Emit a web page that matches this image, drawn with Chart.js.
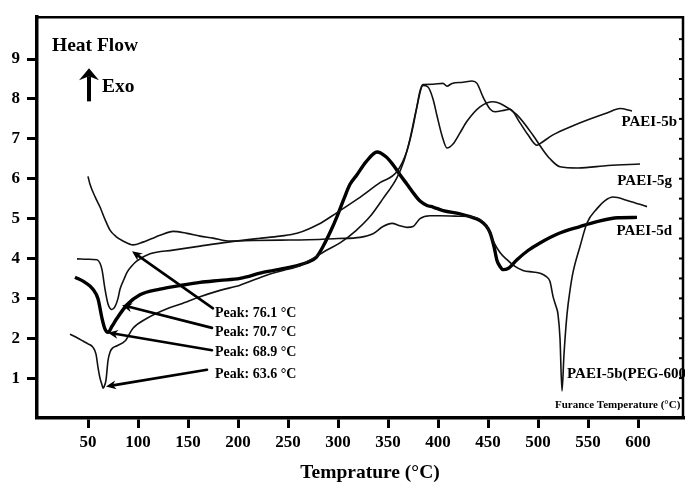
<!DOCTYPE html>
<html><head><meta charset="utf-8">
<script src="https://cdn.jsdelivr.net/npm/chart.js@4.4.0/dist/chart.umd.min.js"></script>
<style>html,body{margin:0;padding:0;background:#fff;overflow:hidden}</style>
</head><body>
<canvas id="c" width="685" height="484"></canvas>
<script>
// ---- tick values ----
const xTicks = [50,100,150,200,250,300,350,400,450,500,550,600];
const yTicks = [1,2,3,4,5,6,7,8,9];
const rightMinorTicks = [0.5,1,1.5,2,2.5,3,3.5,4,4.5,5,5.5,6,6.5,7,7.5,8,8.5,9,9.5];

// ---- series: PAEI-5b(PEG-600) ----
const pegTemp = [50,52,57,62,67,72,78,85,95,105,114,122,135,149,162,175,190,215,242,270,300,322,335,345,354,362,369,375,382,392,402,420,435,442,449,455,462,469,477,485,495,502,508,512,515,518,520,522,524,526,529,532,535,542,549,559,567,575,590,609];
const pegFlow = [6.06,5.86,5.55,5.29,4.98,4.71,4.55,4.44,4.34,4.41,4.5,4.58,4.68,4.63,4.56,4.51,4.44,4.45,4.46,4.47,4.5,4.53,4.62,4.8,4.88,4.82,4.78,4.8,5.0,5.07,5.07,5.06,5.04,4.98,4.8,4.45,4.15,3.97,3.8,3.7,3.66,3.63,3.55,3.42,3.05,2.8,2.6,2.0,0.68,1.6,2.6,3.2,3.65,4.3,4.89,5.25,5.45,5.54,5.45,5.3];

// ---- series: PAEI-5b ----
const b5Temp = [39,50,59,62,64,67,70,74,77,80,82,86,89,94,99,112,135,162,190,220,242,259,280,299,320,342,359,369,375,379,382,385,395,405,409,414,425,434,439,445,452,457,467,472,482,490,499,502,515,535,550,569,582,594];
const b5Flow = [3.99,3.98,3.97,3.88,3.72,3.23,2.86,2.72,2.79,3.0,3.23,3.48,3.65,3.82,3.94,4.12,4.21,4.31,4.41,4.5,4.56,4.63,4.85,5.15,5.5,5.9,6.18,6.7,7.3,7.82,8.2,8.36,8.37,8.39,8.32,8.39,8.42,8.45,8.39,8.05,7.75,7.68,7.72,7.74,7.4,7.1,6.84,6.88,7.1,7.33,7.48,7.65,7.76,7.7];

// ---- series: PAEI-5g ----
const g5Temp = [32,40,45,50,55,58,60,62,64,65,66,68,70,72,74,79,87,95,109,129,142,162,182,202,225,245,262,275,288,302,318,332,345,359,366,372,378,385,390,395,399,404,409,415,422,429,442,455,465,479,495,505,512,522,540,570,602];
const g5Flow = [2.1,2.0,1.93,1.86,1.77,1.6,1.27,1.0,0.83,0.75,0.78,0.95,1.44,1.65,1.74,1.81,1.93,2.25,2.5,2.74,2.85,3.04,3.2,3.33,3.55,3.7,3.82,4.0,4.2,4.39,4.7,5.05,5.5,6.03,6.45,7.0,7.7,8.34,8.3,8.0,7.58,7.08,6.77,6.87,7.15,7.44,7.8,7.93,7.85,7.6,7.09,6.72,6.5,6.3,6.27,6.33,6.37];

// ---- series: PAEI-5d (thick) ----
const d5Temp = [37,47,55,60,64,67,70,74,79,89,102,122,142,162,182,202,225,250,269,278,285,292,299,306,312,319,328,339,348,355,362,369,376,382,389,395,405,422,432,442,448,452,456,459,462,465,470,479,490,502,520,542,560,580,599];
const d5Flow = [3.53,3.4,3.23,2.99,2.5,2.23,2.15,2.3,2.5,2.84,3.09,3.23,3.32,3.4,3.45,3.5,3.65,3.77,3.9,4.02,4.3,4.65,5.05,5.5,5.86,6.1,6.42,6.67,6.55,6.35,6.1,5.86,5.62,5.44,5.33,5.29,5.2,5.12,5.05,4.95,4.82,4.65,4.3,3.95,3.8,3.72,3.75,3.97,4.2,4.39,4.62,4.8,4.93,5.02,5.03];

// ---- annotation texts / anchors (data units) ----
const seriesLabels = ['PAEI-5b','PAEI-5g','PAEI-5d','PAEI-5b(PEG-600)'];
const seriesLabelT = [639,634,634,529];
const seriesLabelV = [7.32,5.85,4.59,1.01];
const seriesLabelAlign = ['right','right','right','left'];
const peakLabels = ['Peak: 76.1 \u00B0C','Peak: 70.7 \u00B0C','Peak: 68.9 \u00B0C','Peak: 63.6 \u00B0C'];
const peakLabelT = [177,177,177,177];
const peakLabelV = [2.53,2.06,1.55,1.01];
const peakTailT = [175,174,174,169];
const peakTailV = [2.75,2.26,1.70,1.21];
const peakTipT = [94,84,70,68];
const peakTipV = [4.18,2.83,2.14,0.79];
const yTitle = 'Heat Flow';
const exoLabel = 'Exo';
const xTitle = 'Temprature (\u00B0C)';
const furnaceLabel = 'Furance Temperature (\u00B0C)';

const SERIF = '"Liberation Serif", "Times New Roman", serif';
const zip = (t, v) => t.map((x, i) => ({x: x, y: v[i]}));
const thin = {borderColor:'#111', borderWidth:1.6, pointRadius:0, fill:false, cubicInterpolationMode:'monotone'};

const annot = {
  id: 'annot',
  afterDraw(chart) {
    const {ctx, chartArea: ca, scales: {x, y}} = chart;
    const px = t => x.getPixelForValue(t), py = v => y.getPixelForValue(v);
    ctx.save();
    ctx.strokeStyle = '#000'; ctx.fillStyle = '#000';
    // top & right frame
    ctx.lineWidth = 2.5;
    ctx.beginPath(); ctx.moveTo(ca.left, ca.top); ctx.lineTo(ca.right - 1, ca.top); ctx.lineTo(ca.right - 1, ca.bottom); ctx.stroke();
    // right inward minor ticks
    ctx.lineWidth = 2;
    rightMinorTicks.forEach(v => { ctx.beginPath(); ctx.moveTo(ca.right - 5, py(v)); ctx.lineTo(ca.right, py(v)); ctx.stroke(); });
    // Heat flow + arrow
    ctx.textBaseline = 'alphabetic';
    ctx.font = 'bold 19.5px ' + SERIF; ctx.textAlign = 'left';
    ctx.fillText(yTitle, px(14), py(9.19));
    ctx.fillText(exoLabel, px(64), py(8.18));
    const ax = px(51), aTop = py(8.77), aBot = py(7.94);
    ctx.lineWidth = 4; ctx.beginPath(); ctx.moveTo(ax, aBot); ctx.lineTo(ax, aTop + 8); ctx.stroke();
    ctx.beginPath(); ctx.moveTo(ax, aTop); ctx.lineTo(ax - 10, aTop + 12); ctx.lineTo(ax, aTop + 8); ctx.lineTo(ax + 10, aTop + 12); ctx.closePath(); ctx.fill();
    // series labels
    ctx.font = 'bold 15px ' + SERIF;
    seriesLabels.forEach((s, i) => { ctx.textAlign = seriesLabelAlign[i]; ctx.fillText(s, px(seriesLabelT[i]), py(seriesLabelV[i])); });
    ctx.font = 'bold 11px ' + SERIF; ctx.textAlign = 'left';
    ctx.fillText(furnaceLabel, px(517), py(0.25));
    // peak labels & arrows
    ctx.font = 'bold 14px ' + SERIF;
    peakLabels.forEach((s, i) => {
      ctx.textAlign = 'left';
      ctx.fillText(s, px(peakLabelT[i]), py(peakLabelV[i]));
      const x0 = px(peakTailT[i]), y0 = py(peakTailV[i]), x1 = px(peakTipT[i]), y1 = py(peakTipV[i]);
      const a = Math.atan2(y1 - y0, x1 - x0), L = 10, W = 4.5;
      const bx = x1 - Math.cos(a) * L, by = y1 - Math.sin(a) * L;
      ctx.lineWidth = 2.6; ctx.lineCap = 'round';
      ctx.beginPath(); ctx.moveTo(x0, y0); ctx.lineTo(bx + Math.cos(a) * 3, by + Math.sin(a) * 3); ctx.stroke();
      ctx.beginPath(); ctx.moveTo(x1, y1);
      ctx.lineTo(bx - Math.sin(a) * W, by + Math.cos(a) * W);
      ctx.lineTo(x1 - Math.cos(a) * 7, y1 - Math.sin(a) * 7);
      ctx.lineTo(bx + Math.sin(a) * W, by - Math.cos(a) * W);
      ctx.closePath(); ctx.fill();
    });
    // x-axis title
    ctx.font = 'bold 19.5px ' + SERIF; ctx.textAlign = 'center';
    ctx.fillText(xTitle, px(332), ca.bottom + 60);
    ctx.restore();
  }
};

new Chart(document.getElementById('c'), {
  type: 'line',
  data: {
    datasets: [
      Object.assign({label: seriesLabels[0], data: zip(b5Temp, b5Flow)}, thin),
      Object.assign({label: seriesLabels[1], data: zip(g5Temp, g5Flow)}, thin),
      Object.assign({label: seriesLabels[3], data: zip(pegTemp, pegFlow)}, thin),
      Object.assign({label: seriesLabels[2], data: zip(d5Temp, d5Flow)}, thin, {borderWidth: 3.4, borderColor: '#000'})
    ]
  },
  options: {
    responsive: false, animation: false, devicePixelRatio: 1,
    layout: {padding: {top: 9, right: 1, left: 0, bottom: 0}},
    plugins: {legend: {display: false}, tooltip: {enabled: false}},
    scales: {
      x: {
        type: 'linear', min: -1, max: 646,
        afterFit: s => { s.height = 66; },
        afterBuildTicks: s => { s.ticks = xTicks.map(v => ({value: v})); },
        grid: {drawOnChartArea: false, drawTicks: true, tickLength: 10, tickWidth: 3, tickColor: '#000'},
        border: {display: true, width: 3.5, color: '#000'},
        ticks: {font: {family: SERIF, size: 17, weight: 'bold'}, color: '#000', padding: 4, maxRotation: 0, autoSkip: false}
      },
      y: {
        type: 'linear', min: 0, max: 10.05,
        afterFit: s => { s.width = 37; },
        afterBuildTicks: s => { s.ticks = yTicks.map(v => ({value: v})); },
        grid: {drawOnChartArea: false, drawTicks: true, tickLength: 10, tickWidth: 3, tickColor: '#000'},
        border: {display: true, width: 3.5, color: '#000'},
        ticks: {font: {family: SERIF, size: 17, weight: 'bold'}, color: '#000', padding: 7}
      }
    }
  },
  plugins: [annot]
});
</script>
</body></html>
